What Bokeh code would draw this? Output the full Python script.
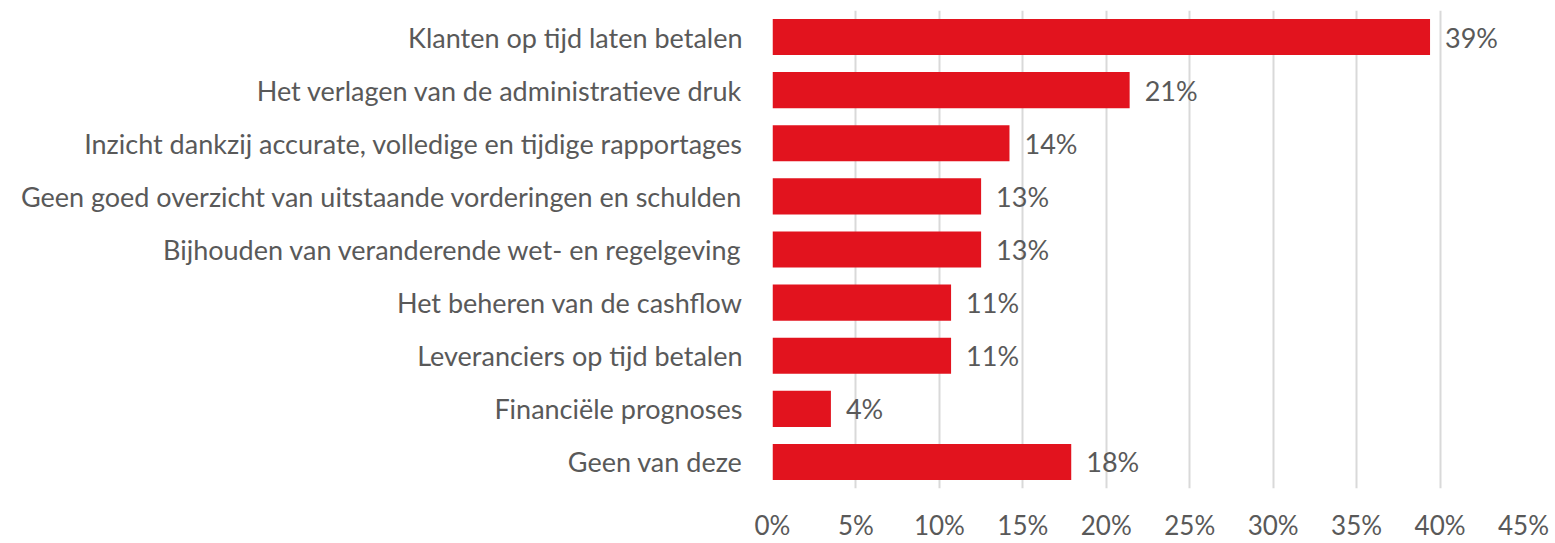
from bokeh.plotting import figure
from bokeh.models import ColumnDataSource, FixedTicker, CustomJSTickFormatter
from bokeh.core.properties import value
from bokeh.embed import file_html
from bokeh.resources import INLINE

categories = [
    "Klanten op tijd laten betalen",
    "Het verlagen van de administratieve druk",
    "Inzicht dankzij accurate, volledige en tijdige rapportages",
    "Geen goed overzicht van uitstaande vorderingen en schulden",
    "Bijhouden van veranderende wet- en regelgeving",
    "Het beheren van de cashflow",
    "Leveranciers op tijd betalen",
    "Financiële prognoses",
    "Geen van deze",
]
values = [39.4, 21.4, 14.2, 12.5, 12.5, 10.7, 10.7, 3.5, 17.9]
labels = ["39%", "21%", "14%", "13%", "13%", "11%", "11%", "4%", "18%"]
ticks = [0, 5, 10, 15, 20, 25, 30, 35, 40, 45]

FONT = "Lato"
TXT = "#595959"
RED = "#E2131E"

src = ColumnDataSource(dict(cat=categories, val=values, lab=labels))

W, H = 1550, 543
p = figure(
    y_range=list(reversed(categories)),
    x_range=(0, 45),
    width=W, height=H,
    output_backend="svg", toolbar_location=None,
    min_border_left=772, min_border_right=W - 1523,
    min_border_top=10, min_border_bottom=H - 489,
)
p.outline_line_color = None
p.background_fill_color = "white"

p.hbar(y="cat", right="val", left=0, height=0.68, source=src,
       fill_color=RED, line_color=None)
p.text(x="val", y="cat", text="lab", source=src, x_offset=15,
       text_align="left", text_baseline="middle",
       text_font=value(FONT), text_font_size="27px", text_color=TXT)

p.xgrid.ticker = FixedTicker(ticks=ticks)
p.xgrid.grid_line_color = "#D9D9D9"
p.xgrid.grid_line_width = 2
p.ygrid.grid_line_color = None

p.xaxis.ticker = FixedTicker(ticks=ticks)
p.xaxis.formatter = CustomJSTickFormatter(code="return tick + '%';")
p.xaxis.axis_line_color = None
p.xaxis.major_tick_line_color = None
p.xaxis.minor_tick_line_color = None
p.xaxis.major_label_standoff = 14
p.xaxis.major_label_text_font = FONT
p.xaxis.major_label_text_font_size = "26px"
p.xaxis.major_label_text_color = TXT

p.yaxis.axis_line_color = None
p.yaxis.major_tick_line_color = None
p.yaxis.minor_tick_line_color = None
p.yaxis.major_label_standoff = 24
p.yaxis.major_label_text_font = FONT
p.yaxis.major_label_text_font_size = "27px"
p.yaxis.major_label_text_color = TXT

open("out.html", "w").write(file_html(p, INLINE))
